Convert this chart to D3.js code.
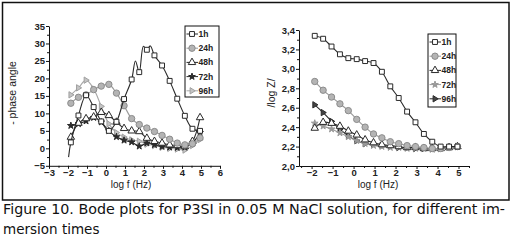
<!DOCTYPE html>
<html>
<head>
<meta charset="utf-8">
<script src="https://cdn.jsdelivr.net/npm/d3@7"></script>
<style>
  body { margin: 0; background: #fff; }
  .tick text { font-family: "Liberation Sans", Arial, sans-serif; font-size: 9.5px; font-weight: bold; fill: #222; }
  .domain, .tick line { stroke: #111; }
</style>
</head>
<body>
<div id="chart"></div>
<script>
const width = 512;
const height = 241;

// log f (Hz) at each measured point, shared by both panels
const logF = [-1.85, -1.45, -1.05, -0.65, -0.25, 0.15, 0.55, 0.95, 1.35, 1.75, 2.15, 2.55, 2.95, 3.35, 3.75, 4.15, 4.55, 4.95];
const seriesNames = ['1h', '24h', '48h', '72h', '96h'];

// - phase angle
const phase1h = [1.7, 9.4, 15.2, 11.8, 7.7, 5.0, 7.6, 14.1, 19.7, 21.8, 28.2, 26.6, 23.7, 19.3, 14.2, 9.3, 5.6, 5.0];
const phase1hExtra = [[-1.97, -2.5], [1.55, 25.0], [1.97, 29.2], [2.33, 29.3]]; // line-only points (no marker)
const phase24h = [12.9, 14.6, 15.3, 16.8, 17.8, 18.3, 15.8, 12.2, 8.5, 6.8, 5.8, 4.8, 3.7, 2.6, 1.5, 1.0, 1.3, 3.0];
const phase48h = [3.2, 7.2, 8.5, 9.0, 10.3, 9.4, 7.5, 5.7, 5.0, 4.8, 2.9, 2.0, 1.5, 1.0, 0.8, 0.5, 2.0, 8.8];
const phase72h = [6.5, 7.0, 7.8, 8.8, 7.5, 5.0, 3.3, 2.3, 1.8, 0.6, 1.5, 1.0, 0.5, 0.3, 0.2, 0.3, 1.5, 4.5];
const phase96h = [15.3, 17.3, 19.5, 17.0, 12.0, 7.0, 4.5, 3.2, 2.4, 2.0, 1.2, 0.8, 0.3, 0.0, -0.2, -0.5, 0.8, 2.5];

// /log Z/
const logZ1h = [3.34, 3.31, 3.23, 3.15, 3.11, 3.10, 3.08, 3.06, 2.97, 2.82, 2.70, 2.56, 2.45, 2.33, 2.25, 2.20, 2.20, 2.20];
const logZ24h = [2.87, 2.78, 2.71, 2.64, 2.57, 2.48, 2.40, 2.33, 2.29, 2.25, 2.23, 2.21, 2.20, 2.19, 2.18, 2.18, 2.19, 2.20];
const logZ48h = [2.39, 2.45, 2.44, 2.41, 2.36, 2.32, 2.27, 2.24, 2.22, 2.21, 2.20, 2.19, 2.19, 2.18, 2.18, 2.18, 2.19, 2.20];
const logZ72h = [2.44, 2.41, 2.38, 2.34, 2.30, 2.26, 2.23, 2.21, 2.20, 2.19, 2.19, 2.18, 2.18, 2.18, 2.17, 2.18, 2.19, 2.20];
const logZ96h = [2.63, 2.55, 2.46, 2.38, 2.31, 2.26, 2.23, 2.22, 2.21, 2.20, 2.19, 2.19, 2.18, 2.18, 2.18, 2.18, 2.19, 2.20];

const phaseTicks = [-5, 0, 5, 10, 15, 20, 25, 30, 35];
const logZTicks = [2.0, 2.2, 2.4, 2.6, 2.8, 3.0, 3.2, 3.4];

const labelFont = '"Liberation Sans", Arial, sans-serif';

const rightTri = {
  draw(ctx, size) {
    const r = Math.sqrt(size) * 0.6;
    ctx.moveTo(r, 0);
    ctx.lineTo(-r * 0.6, -r);
    ctx.lineTo(-r * 0.6, r);
    ctx.closePath();
  }
};

const dark = '#2a2a2a';
const grey = '#9a9a9a';

const leftStyles = [
  { sym: d3.symbolSquare, line: dark, fill: '#fff', stroke: dark, size: 24 },
  { sym: d3.symbolCircle, line: grey, fill: '#b4b4b4', stroke: '#8c8c8c', size: 32 },
  { sym: d3.symbolTriangle, line: dark, fill: '#fff', stroke: dark, size: 24 },
  { sym: d3.symbolStar, line: dark, fill: dark, stroke: dark, size: 14 },
  { sym: rightTri, line: '#a8a8a8', fill: '#c4c4c4', stroke: '#a0a0a0', size: 28 }
];
const rightStyles = [
  { sym: d3.symbolSquare, line: dark, fill: '#fff', stroke: dark, size: 24 },
  { sym: d3.symbolCircle, line: grey, fill: '#b4b4b4', stroke: '#8c8c8c', size: 32 },
  { sym: d3.symbolTriangle, line: dark, fill: '#fff', stroke: dark, size: 24 },
  { sym: d3.symbolStar, line: grey, fill: '#999', stroke: '#999', size: 14 },
  { sym: rightTri, line: dark, fill: '#444', stroke: dark, size: 28 }
];

const svg = d3.select('#chart')
  .append('svg')
  .attr('width', width)
  .attr('height', height);

svg.append('rect')
  .attr('x', 2.5).attr('y', 2.5)
  .attr('width', 506.5).attr('height', 197.5)
  .attr('fill', 'none')
  .attr('stroke', '#111')
  .attr('stroke-width', 1.5);

drawPanel({
  x: d3.scaleLinear().domain([-3, 6]).range([49, 220]),
  y: d3.scaleLinear().domain([-5, 35]).range([165.8, 26]),
  xTicks: d3.range(-3, 7, 1),
  xMinor: d3.range(-2.5, 6, 1),
  yTicks: phaseTicks,
  yMinor: d3.range(-2.5, 35, 5),
  yFormat: d3.format('d'),
  series: [phase1h, phase24h, phase48h, phase72h, phase96h],
  extra: [phase1hExtra, [], [], [], []],
  styles: leftStyles,
  yTitle: '- phase angle',
  yTitleX: 12,
  xTitleX: 131,
  legend: { x: 185, y: 26, w: 34, h: 71 }
});

drawPanel({
  x: d3.scaleLinear().domain([-2.6, 5.5]).range([299, 469]),
  y: d3.scaleLinear().domain([2.0, 3.4]).range([166, 30]),
  xTicks: d3.range(-2, 6, 1),
  xMinor: d3.range(-2.5, 5.6, 1),
  yTicks: logZTicks,
  yMinor: d3.range(2.1, 3.4, 0.2),
  yFormat: d => d3.format('.1f')(d).replace('.', ','),
  series: [logZ1h, logZ24h, logZ48h, logZ72h, logZ96h],
  extra: [[], [], [], [], []],
  styles: rightStyles,
  yTitle: '/log Z/',
  yTitleX: 271,
  xTitleX: 378,
  legend: { x: 428, y: 34, w: 28, h: 73 }
});

function drawPanel(p) {
  const g = svg.append('g');

  // axes
  g.append('g')
    .attr('transform', `translate(0,${p.y.range()[0]})`)
    .call(d3.axisBottom(p.x).tickValues(p.xTicks).tickSize(3).tickPadding(0).tickSizeOuter(0));
  g.append('g')
    .attr('transform', `translate(0,${p.y.range()[0]})`)
    .call(d3.axisBottom(p.x).tickValues(p.xMinor).tickSize(2).tickFormat('').tickSizeOuter(0))
    .select('.domain').remove();
  g.append('g')
    .attr('transform', `translate(${p.x.range()[0]},0)`)
    .call(d3.axisLeft(p.y).tickValues(p.yTicks).tickFormat(p.yFormat).tickSize(3).tickPadding(1).tickSizeOuter(0));
  g.append('g')
    .attr('transform', `translate(${p.x.range()[0]},0)`)
    .call(d3.axisLeft(p.y).tickValues(p.yMinor).tickSize(2).tickFormat('').tickSizeOuter(0))
    .select('.domain').remove();

  // titles
  g.append('text')
    .text('log f (Hz)')
    .attr('x', p.xTitleX)
    .attr('y', 187.5)
    .attr('text-anchor', 'middle')
    .style('font-family', labelFont)
    .style('font-size', '10px')
    .style('fill', '#222');

  g.append('text')
    .text(p.yTitle)
    .attr('transform', `translate(${p.yTitleX},${93}) rotate(-90)`)
    .attr('text-anchor', 'middle')
    .attr('dy', '0.35em')
    .style('font-family', labelFont)
    .style('font-size', '10.5px')
    .style('fill', '#222');

  const line = d3.line()
    .x(d => p.x(d[0]))
    .y(d => p.y(d[1]))
    .curve(d3.curveCatmullRom.alpha(0.5));

  // draw back to front: 96h first, 1h on top
  for (let i = p.series.length - 1; i >= 0; i--) {
    const st = p.styles[i];
    const pts = p.series[i].map((v, j) => [logF[j], v]);
    const linePts = pts.concat(p.extra[i]).sort((a, b) => a[0] - b[0]);

    g.append('path')
      .datum(linePts)
      .attr('d', line)
      .attr('fill', 'none')
      .attr('stroke', st.line)
      .attr('stroke-width', 1.1);

    g.selectAll(null)
      .data(pts)
      .join('path')
      .attr('transform', d => `translate(${p.x(d[0])},${p.y(d[1])})`)
      .attr('d', d3.symbol(st.sym, st.size))
      .attr('fill', st.fill)
      .attr('stroke', st.stroke)
      .attr('stroke-width', 1);
  }

  // legend
  const lg = g.append('g').attr('transform', `translate(${p.legend.x},${p.legend.y})`);
  lg.append('rect')
    .attr('width', p.legend.w)
    .attr('height', p.legend.h)
    .attr('fill', '#fff')
    .attr('stroke', '#111')
    .attr('stroke-width', 1);

  const rows = lg.selectAll('g.row')
    .data(seriesNames)
    .join('g')
    .attr('class', 'row')
    .attr('transform', (d, i) => `translate(0,${8 + i * 14.2})`);

  rows.append('line')
    .attr('x1', 1.5).attr('x2', 13)
    .attr('stroke', (d, i) => p.styles[i].line)
    .attr('stroke-width', 1);
  rows.append('path')
    .attr('transform', 'translate(7,0)')
    .attr('d', (d, i) => d3.symbol(p.styles[i].sym, p.styles[i].size)())
    .attr('fill', (d, i) => p.styles[i].fill)
    .attr('stroke', (d, i) => p.styles[i].stroke);
  rows.append('text')
    .text(d => d)
    .attr('x', 13.5)
    .attr('dy', '0.35em')
    .style('font-family', labelFont)
    .style('font-size', '8.5px')
    .style('font-weight', 'bold')
    .style('fill', '#222');
}

// caption
const caption = svg.append('g')
  .style('font-family', '"DejaVu Sans", sans-serif')
  .style('font-size', '13.5px')
  .style('fill', '#111');
caption.append('text')
  .text('Figure 10. Bode plots for P3SI in 0.05 M NaCl solution, for different im-')
  .attr('x', 3)
  .attr('y', 214)
  .attr('textLength', 502)
  .attr('lengthAdjust', 'spacingAndGlyphs');
caption.append('text')
  .text('mersion times')
  .attr('x', 3)
  .attr('y', 233.5);
</script>
</body>
</html>
